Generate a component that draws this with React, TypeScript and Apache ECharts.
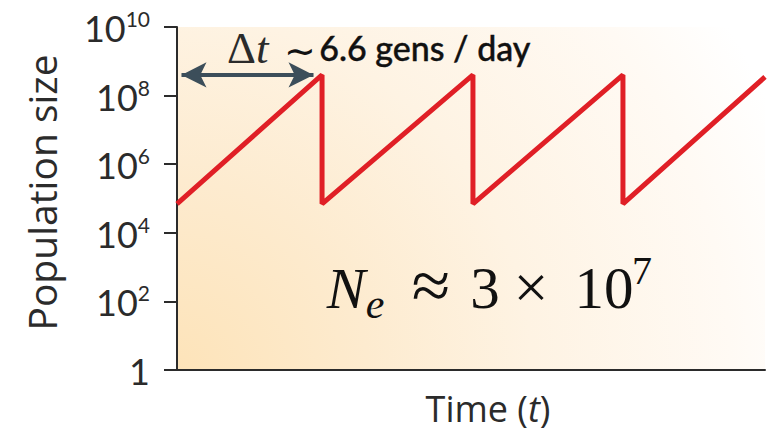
import React, { useEffect, useRef } from "react";
import * as echarts from "echarts";

// Time (days) and population size for the serial-transfer sawtooth
const times = [0, 0.967, 0.967, 1.973, 1.973, 2.973, 2.973, 3.92];
const popSizes = [7e4, 4e8, 7e4, 4e8, 7e4, 4e8, 7e4, 3.5e8];
const arrowTimes = [0.03, 0.91];
const arrowLevel = 4e8;
const yTicks = [1, 1e2, 1e4, 1e6, 1e8, 1e10];

const SANS = "Lato, 'Open Sans', sans-serif";
const NAMEFONT = "'Open Sans', Lato, sans-serif";
const SERIF = "'Liberation Serif', 'DejaVu Serif', serif";

export default function App() {
  const ref = useRef<HTMLDivElement>(null);
  useEffect(() => {
    if (!ref.current) return;
    const chart = echarts.init(ref.current, null, { renderer: "svg" });
    const data = times.map((t, i) => [t, popSizes[i]]);
    const mathText = (text: string, cx: number, cy: number, size: number, italic: boolean) => ({
      type: "text",
      x: cx,
      y: cy,
      style: {
        text,
        fontFamily: SERIF,
        fontSize: size,
        fontStyle: italic ? "italic" : "normal",
        fill: "#111111",
        align: "center",
        verticalAlign: "middle",
      },
    });
    chart.setOption({
      animation: false,
      grid: {
        left: 177,
        right: 8,
        top: 27,
        bottom: 63,
        containLabel: false,
        outerBoundsMode: "none",
        show: true,
        borderWidth: 0,
        backgroundColor: new echarts.graphic.RadialGradient(
          170,
          378,
          660,
          [
            { offset: 0, color: "#fde3b8" },
            { offset: 0.3, color: "#fdebcf" },
            { offset: 0.55, color: "#fef3e3" },
            { offset: 0.85, color: "#fffaf4" },
            { offset: 1, color: "#ffffff" },
          ],
          true
        ),
      },
      xAxis: {
        type: "value",
        min: 0,
        max: times[times.length - 1],
        axisLine: { show: true, lineStyle: { color: "#2b2b2b", width: 2 } },
        axisTick: { show: false },
        axisLabel: { show: false },
        splitLine: { show: false },
        name: "Time ({it|t})",
        nameLocation: "middle",
        nameGap: 20,
        nameTextStyle: {
          fontFamily: NAMEFONT,
          fontSize: 36,
          color: "#2b2b2b",
          padding: [0, 0, 0, 34],
          rich: {
            it: { fontFamily: NAMEFONT, fontSize: 36, fontStyle: "italic", color: "#2b2b2b" },
          },
        },
      },
      yAxis: {
        type: "log",
        logBase: 10,
        min: yTicks[0],
        max: yTicks[yTicks.length - 1],
        interval: 2,
        axisLine: { show: true, lineStyle: { color: "#2b2b2b", width: 2 } },
        axisTick: { show: true, inside: false, length: 13, lineStyle: { color: "#2b2b2b", width: 2 } },
        splitLine: { show: false },
        axisLabel: {
          margin: 27,
          color: "#2b2b2b",
          formatter: (v: number) => {
            if (v <= 1) return "{b|1}";
            const e = Math.round(Math.log10(v));
            return "{b|10}{e|" + e + "}";
          },
          rich: {
            b: { fontFamily: SANS, fontSize: 36, color: "#2b2b2b", lineHeight: 38, verticalAlign: "bottom" },
            e: { fontFamily: SANS, fontSize: 21, color: "#2b2b2b", lineHeight: 24, verticalAlign: "top" },
          },
        },
        name: "Population size",
        nameLocation: "middle",
        nameRotate: 90,
        nameGap: 116,
        nameTextStyle: {
          fontFamily: NAMEFONT,
          fontSize: 39,
          color: "#2b2b2b",
          padding: [0, 0, 0, 12],
        },
      },
      series: [
        {
          type: "line",
          data,
          showSymbol: false,
          symbol: "none",
          silent: true,
          lineStyle: { color: "#e01f26", width: 5 },
          markLine: {
            silent: true,
            symbol: ["arrow", "arrow"],
            symbolSize: [19, 25],
            label: { show: false },
            lineStyle: { color: "#3c4e5a", width: 4, type: "solid" },
            data: [
              [
                { coord: [arrowTimes[0], arrowLevel] },
                { coord: [arrowTimes[1], arrowLevel] },
              ],
            ],
          },
        },
      ],
      graphic: [
        {
          type: "text",
          left: 227,
          top: 25,
          style: {
            text: "{d|Δ}{t|t}",
            rich: {
              d: { fontFamily: SERIF, fontSize: 45, fill: "#2b2b2b" },
              t: { fontFamily: SERIF, fontSize: 45, fontStyle: "italic", fill: "#2b2b2b" },
            },
          },
        },
        {
          type: "text",
          x: 300,
          y: 51,
          style: {
            text: "∼",
            fontFamily: "'DejaVu Sans', sans-serif",
            fontSize: 38,
            fontWeight: "normal",
            fill: "#111111",
            align: "center",
            verticalAlign: "middle",
          },
        },
        {
          type: "text",
          left: 319,
          top: 30,
          style: {
            text: "6.6 gens / day",
            fontFamily: SANS,
            fontSize: 34,
            fontWeight: 500,
            fill: "#111111",
            stroke: "#111111",
            lineWidth: 0.4,
          },
        },
        mathText("N", 346, 288, 58, true),
        mathText("e", 375, 304, 42, true),
        mathText("≈", 431, 285, 70, false),
        mathText("3", 485, 288, 59, false),
        mathText("×", 531, 287, 62, false),
        mathText("10", 604, 288, 59, false),
        mathText("7", 642, 270, 40, false),
      ],
    });
    return () => chart.dispose();
  }, []);
  return <div ref={ref} style={{ width: 773, height: 433, position: "absolute", left: 0, top: 0 }} />;
}
